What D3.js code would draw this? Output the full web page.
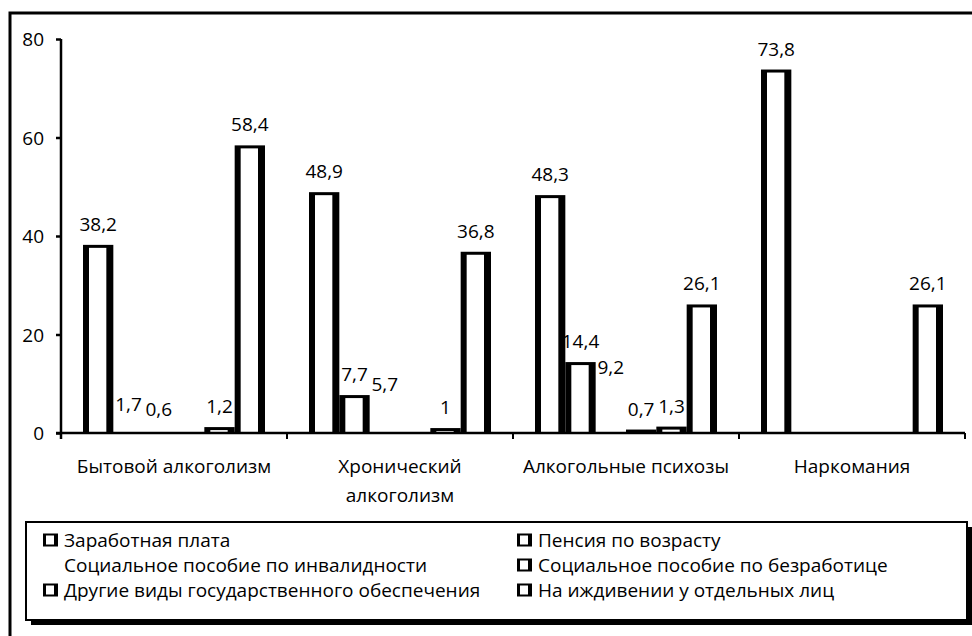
<!DOCTYPE html>
<html>
<head>
<meta charset="utf-8">
<script src="https://cdn.jsdelivr.net/npm/d3@7"></script>
<style>
  html, body { margin: 0; background: #fff; overflow: hidden; }
  svg { display: block; }
  text { font-family: "Open Sans", sans-serif; fill: #000; }
</style>
</head>
<body>
<div id="chart"></div>
<script>
// categories (x axis) and the two-line label of each
var categories = ["Бытовой алкоголизм", "Хронический алкоголизм", "Алкогольные психозы", "Наркомания"]
var categoryLines = [["Бытовой алкоголизм"], ["Хронический", "алкоголизм"], ["Алкогольные психозы"], ["Наркомания"]]

// series, null = no bar
var seriesNames = [
    "Заработная плата",
    "Пенсия по возрасту",
    "Социальное пособие по инвалидности",
    "Социальное пособие по безработице",
    "Другие виды государственного обеспечения",
    "На иждивении у отдельных лиц"
]
var zarplata = [38.2, 48.9, 48.3, 73.8]
var pensiya = [1.7, 7.7, 14.4, null]
var invalidnost = [0.6, 5.7, 9.2, null]
var bezrabotica = [null, null, 0.7, null]
var drugie = [1.2, 1, 1.3, null]
var izhdivenie = [58.4, 36.8, 26.1, 26.1]
var seriesValues = [zarplata, pensiya, invalidnost, bezrabotica, drugie, izhdivenie]
// the disability series is drawn invisible in the original
var seriesVisible = [true, true, false, true, true, true]
// single bars that the original hatch left blank: [category, series]
var blankBars = [[0, 1]]

var yTicks = [0, 20, 40, 60, 80]

var width = 972,
    height = 636;

var svg = d3.select("#chart")
    .append("svg")
    .attr("width", width)
    .attr("height", height)

// outer frame (right and bottom edges run off the picture)
svg.append("rect")
    .attr("x", 10)
    .attr("y", 13)
    .attr("width", 1000)
    .attr("height", 700)
    .attr("fill", "none")
    .attr("stroke", "#000")
    .attr("stroke-width", 3)

var plot = {left: 61, right: 965, top: 39, bottom: 433}

var x = d3.scaleBand()
    .domain(categories)
    .range([plot.left, plot.right])
    .padding(0)

var xSeries = d3.scaleBand()
    .domain(d3.range(seriesNames.length))
    .range([22, x.bandwidth() - 22])
    .padding(0)

var y = d3.scaleLinear()
    .domain([0, 80])
    .range([plot.bottom, plot.top])

// flatten to bars
var bars = []
categories.forEach(function (c, ci) {
    seriesValues.forEach(function (vals, si) {
        if (vals[ci] != null) bars.push({cat: c, ci: ci, s: si, value: vals[ci]})
    })
})

// y axis
var yAxis = svg.append("g")
    .attr("transform", "translate(" + plot.left + ",0)")
    .call(d3.axisLeft(y).tickValues(yTicks).tickSize(5).tickPadding(12))
yAxis.select(".domain").attr("stroke-width", 2.5).attr("d", "M0," + plot.top + "V" + plot.bottom)
yAxis.selectAll(".tick line").attr("stroke-width", 2.5)
yAxis.selectAll(".tick text")
    .style("font-size", "19px")
    .attr("dy", "0.36em")

// bars: black block with white inside, like the original hatch
var barG = svg.append("g")
var vis = bars.filter(function (d) {
    var blank = blankBars.some(function (b) { return b[0] == d.ci && b[1] == d.s })
    return seriesVisible[d.s] && !blank
})
barG.selectAll(".bar-out")
    .data(vis)
    .enter()
    .append("rect")
    .attr("x", function (d) { return x(d.cat) + xSeries(d.s) })
    .attr("y", function (d) { return y(d.value) })
    .attr("width", xSeries.bandwidth())
    .attr("height", function (d) { return y(0) - y(d.value) })
    .attr("fill", "#000")
barG.selectAll(".bar-in")
    .data(vis)
    .enter()
    .append("rect")
    .attr("x", function (d) { return x(d.cat) + xSeries(d.s) + 6 })
    .attr("y", function (d) { return y(d.value) + 3 })
    .attr("width", xSeries.bandwidth() - 13)
    .attr("height", function (d) { return Math.max(0, y(0) - y(d.value) - 3) })
    .attr("fill", "#fff")

// x axis with ticks at category borders
var xAxisG = svg.append("g")
xAxisG.append("line")
    .attr("x1", plot.left - 5).attr("x2", plot.right)
    .attr("y1", y(0)).attr("y2", y(0))
    .attr("stroke", "#000")
    .attr("stroke-width", 2.5)
xAxisG.selectAll(".xtick")
    .data(categories)
    .enter()
    .append("line")
    .attr("x1", function (d) { return x(d) + x.bandwidth() })
    .attr("x2", function (d) { return x(d) + x.bandwidth() })
    .attr("y1", y(0)).attr("y2", y(0) + 6)
    .attr("stroke", "#000")
    .attr("stroke-width", 2)
xAxisG.append("line")
    .attr("x1", plot.left).attr("x2", plot.left)
    .attr("y1", y(0)).attr("y2", y(0) + 6)
    .attr("stroke", "#000")
    .attr("stroke-width", 2.5)

var catText = xAxisG.selectAll(".xlabel")
    .data(categories)
    .enter()
    .append("text")
    .attr("text-anchor", "middle")
    .style("font-size", "19px")
    .attr("x", function (d) { return x(d) + x.bandwidth() / 2 })
    .attr("y", y(0) + 40)
catText.selectAll("tspan")
    .data(function (d, i) { return categoryLines[i] })
    .enter()
    .append("tspan")
    .attr("x", function () { return d3.select(this.parentNode).attr("x") })
    .attr("dy", function (d, i) { return i == 0 ? 0 : 29 })
    .text(function (d) { return d })

// value labels
svg.append("g").selectAll("text")
    .data(bars)
    .enter()
    .append("text")
    .attr("text-anchor", "middle")
    .style("font-size", "19px")
    .attr("x", function (d) { return x(d.cat) + xSeries(d.s) + xSeries.bandwidth() / 2 })
    .attr("y", function (d) { return y(d.value) - 14 })
    .text(function (d) { return String(d.value).replace(".", ",") })

// legend box with shadow
var lg = {x: 26, y: 522, w: 941, h: 98}
svg.append("rect")
    .attr("x", lg.x + 5).attr("y", lg.y + 5)
    .attr("width", lg.w).attr("height", lg.h)
    .attr("fill", "#000")
svg.append("rect")
    .attr("x", lg.x).attr("y", lg.y)
    .attr("width", lg.w).attr("height", lg.h)
    .attr("fill", "#fff")
    .attr("stroke", "#000")
    .attr("stroke-width", 2)

var legendCols = [43, 517]
var item = svg.append("g").selectAll("g")
    .data(seriesNames)
    .enter()
    .append("g")
    .attr("transform", function (d, i) {
        return "translate(" + legendCols[i % 2] + "," + (546.5 + Math.floor(i / 2) * 25) + ")"
    })
item.filter(function (d, i) { return seriesVisible[i] })
    .append("rect")
    .attr("x", 0).attr("y", -13)
    .attr("width", 15).attr("height", 13)
    .attr("fill", "#000")
item.filter(function (d, i) { return seriesVisible[i] })
    .append("rect")
    .attr("x", 3).attr("y", -11)
    .attr("width", 8).attr("height", 9)
    .attr("fill", "#fff")
item.append("text")
    .attr("x", 21)
    .attr("y", 0)
    .style("font-size", "19px")
    .text(function (d) { return d })
</script>
</body>
</html>
